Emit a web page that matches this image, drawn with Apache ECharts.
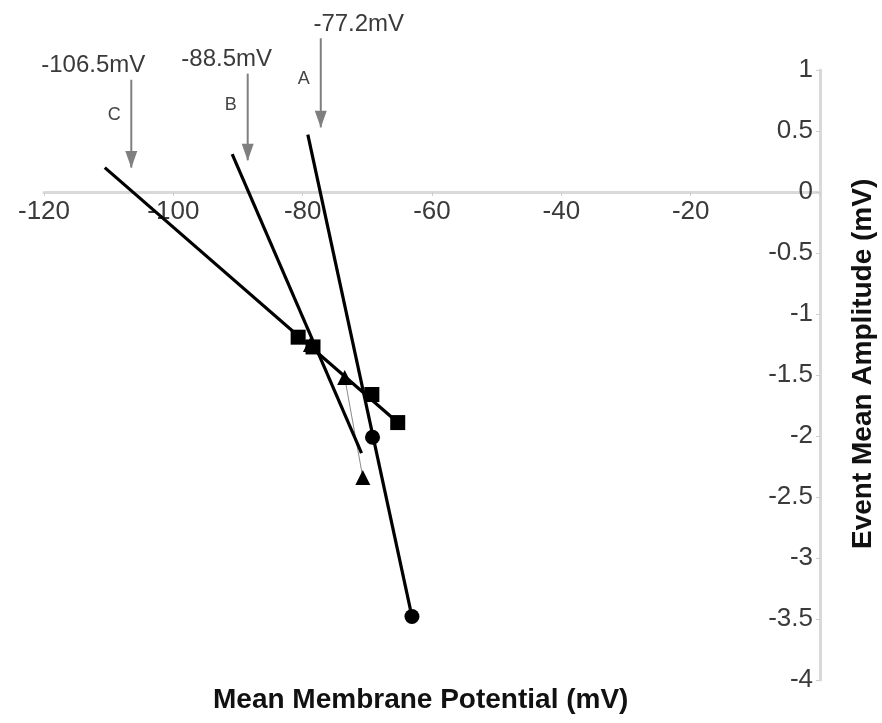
<!DOCTYPE html>
<html><head><meta charset="utf-8">
<script src="https://cdn.jsdelivr.net/npm/echarts@6/dist/echarts.min.js"></script>
<style>html,body{margin:0;padding:0;background:#fff}#c{width:882px;height:723px}</style>
</head><body><div id="c"></div>
<script>
// Data
const xTicks = [-120, -100, -80, -60, -40, -20, 0];
const yTicks = [-4, -3.5, -3, -2.5, -2, -1.5, -1, -0.5, 0, 0.5, 1];

// Series A (circles)
const circleX = [-69.2, -63.1];
const circleY = [-2.01, -3.48];
// Series B (triangles)
const triX = [-78.8, -73.5, -70.7];
const triY = [-1.25, -1.52, -2.34];
// Series C (squares)
const sqX = [-80.7, -78.4, -69.3, -65.3];
const sqY = [-1.19, -1.27, -1.66, -1.89];

// Trend lines (start/end)
const trendAX = [-79.2, -63.1], trendAY = [0.47, -3.48];
const trendBX = [-90.9, -70.9], trendBY = [0.31, -2.14];
const trendCX = [-110.6, -65.3], trendCY = [0.20, -1.89];

// Reversal-potential arrows
const arrowX = [-106.5, -88.5, -77.2];
const arrowTop = [0.92, 0.97, 1.26];
const arrowTip = [0.20, 0.26, 0.53];
const arrowText = ['-106.5mV', '-88.5mV', '-77.2mV'];
const letterText = ['C', 'B', 'A'];
const letterY = [0.63, 0.71, 0.93];

const zip = (xs, ys) => xs.map((x, i) => [x, ys[i]]);
const yMin = yTicks[0], yMax = yTicks[yTicks.length - 1];
const gridTop = 70, gridBottom = 43, H = 723;
const plotH = H - gridTop - gridBottom;
const xAxisOffset = -plotH * (0 - yMin) / (yMax - yMin); // put x axis at y = 0

const series = [];
// trend lines
[[trendAX, trendAY], [trendBX, trendBY], [trendCX, trendCY]].forEach(([xs, ys]) => {
  series.push({type: 'line', data: zip(xs, ys), symbol: 'none', silent: true,
    lineStyle: {color: '#000', width: 3.2}, z: 3});
});
// thin connecting line between triangle points
series.push({type: 'line', data: zip(triX, triY), symbol: 'none', silent: true,
  lineStyle: {color: '#8a8a8a', width: 1}, z: 2});
// markers
series.push({type: 'scatter', data: zip(sqX, sqY), symbol: 'rect', symbolSize: 15,
  itemStyle: {color: '#000', opacity: 1}, z: 5});
series.push({type: 'scatter', data: zip(triX, triY), symbol: 'triangle', symbolSize: 15,
  itemStyle: {color: '#000', opacity: 1}, z: 5});
series.push({type: 'scatter', data: zip(circleX, circleY), symbol: 'circle', symbolSize: 15,
  itemStyle: {color: '#000', opacity: 1}, z: 5});

// arrows
arrowX.forEach((x, i) => {
  series.push({type: 'line', clip: false, silent: true, z: 4,
    lineStyle: {color: '#7f7f7f', width: 2},
    itemStyle: {color: '#7f7f7f', opacity: 1},
    data: [
      {value: [x, arrowTop[i]], symbol: 'none'},
      {value: [x, arrowTip[i]], symbol: 'triangle', symbolRotate: 180, symbolSize: [12, 17],
       symbolOffset: [0, -8]}
    ]});
});
// arrow texts
const labelDx = [-38, -21, 38];
series.push({type: 'scatter', clip: false, silent: true, symbolSize: 2, z: 6,
  itemStyle: {color: 'rgba(0,0,0,0)', opacity: 1},
  data: arrowX.map((x, i) => ({value: [x, arrowTop[i]], name: arrowText[i],
    label: {offset: [labelDx[i], -14]}})),
  label: {show: true, position: 'inside', formatter: p => p.name, opacity: 1,
    color: '#3a3a3a', fontSize: 24, fontFamily: 'Liberation Sans'}});
// letters
series.push({type: 'scatter', clip: false, silent: true, symbolSize: 2, z: 6,
  itemStyle: {color: 'rgba(0,0,0,0)', opacity: 1},
  data: arrowX.map((x, i) => ({value: [x, letterY[i]], name: letterText[i]})),
  label: {show: true, position: 'inside', offset: [-17, 0], formatter: p => p.name, opacity: 1,
    color: '#444', fontSize: 18, fontFamily: 'Liberation Sans'}});

const chart = echarts.init(document.getElementById('c'));
chart.setOption({
  animation: false,
  backgroundColor: '#fff',
  grid: {left: 44, right: 62, top: gridTop, bottom: gridBottom},
  xAxis: {type: 'value', min: xTicks[0], max: xTicks[xTicks.length - 1], interval: 20,
    position: 'bottom', offset: xAxisOffset,
    axisLine: {onZero: false, lineStyle: {color: '#d9d9d9', width: 3}},
    axisTick: {show: true, length: 4, lineStyle: {color: '#cfcfcf'}},
    splitLine: {show: false},
    axisLabel: {color: '#3a3a3a', fontSize: 26, fontFamily: 'Liberation Sans', margin: 7,
      formatter: v => (v === 0 ? '' : String(v))}},
  yAxis: {type: 'value', min: yMin, max: yMax, interval: 0.5,
    position: 'right',
    axisLine: {show: true, onZero: false, lineStyle: {color: '#d9d9d9', width: 3}},
    axisTick: {show: true, inside: true, length: 4, lineStyle: {color: '#cfcfcf'}},
    splitLine: {show: false},
    axisLabel: {inside: true, color: '#3a3a3a', fontSize: 26, fontFamily: 'Liberation Sans', margin: 7}},
  graphic: [
    {type: 'text', left: 213, top: 686,
      style: {text: 'Mean Membrane Potential (mV)', font: 'bold 28px "Liberation Sans"', fill: '#111'}},
    {type: 'text', x: 849, y: 549, rotation: Math.PI / 2,
      style: {text: 'Event Mean Amplitude (mV)', font: 'bold 28px "Liberation Sans"', fill: '#111'}}
  ],
  series
});
</script></body></html>
